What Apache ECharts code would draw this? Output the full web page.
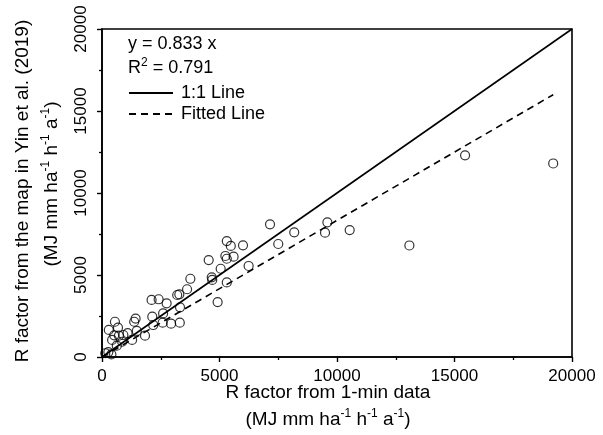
<!DOCTYPE html>
<html>
<head>
<meta charset="utf-8">
<script src="https://cdn.jsdelivr.net/npm/echarts@6/dist/echarts.min.js"></script>
<style>html,body{margin:0;padding:0;background:#fff;}#c{width:603px;height:435px;}</style>
</head>
<body>
<div id="c"></div>
<script>
// R factor from 1-min data (x) vs. map in Yin et al. (2019) (y)
var obsX = [19200, 15450, 13080, 10540, 9590, 9490, 8180, 7500, 7150, 5310, 5480, 6000, 4540, 5250, 5310, 5600, 5050, 6240, 3760, 4670, 4690, 5310, 3620, 3200, 3290, 2110, 2410, 2750, 3320, 4920, 2600, 2140, 2180, 2580, 2940, 3310, 1430, 1370, 1830, 1480, 1280, 1090, 910, 720, 520, 550, 680, 290, 430, 630, 860, 270, 400, 140];
var mapY = [11800, 12300, 6800, 7740, 8210, 7580, 7600, 6890, 8090, 7070, 6770, 6810, 5910, 6160, 5990, 6120, 5380, 5550, 4770, 4860, 4700, 4550, 4130, 3780, 3820, 3480, 3520, 3270, 3030, 3350, 2660, 2460, 1950, 2090, 2030, 2090, 2340, 2150, 1300, 1590, 1040, 1450, 1340, 1300, 1320, 2150, 1790, 1650, 1040, 690, 930, 300, 160, 230];
var oneToOne = [[0, 0], [20000, 20000]];
var fitSlope = 0.833;
var fitXRange = [0, 19200];
var xTicks = [0, 5000, 10000, 15000, 20000];
var yTicks = [0, 5000, 10000, 15000, 20000];
var eqText = 'y = 0.833 x';
var r2Value = '0.791';

var FONT = 'Liberation Sans, Arial, sans-serif';
var scatterData = obsX.map(function (x, i) { return [x, mapY[i]]; });
var fitData = fitXRange.map(function (x) { return [x, fitSlope * x]; });
var plain = function (v) { return String(v); };

var axisCommon = {
  type: 'value', min: xTicks[0], max: xTicks[xTicks.length - 1], interval: 5000,
  axisLine: { show: true, lineStyle: { color: '#000', width: 1.6 } },
  axisTick: { show: true, inside: false, length: 5, lineStyle: { color: '#000', width: 1.4 } },
  minorTick: { show: true, splitNumber: 2, length: 3, lineStyle: { color: '#000', width: 1.3 } },
  splitLine: { show: false },
  axisLabel: { color: '#000', fontSize: 17, fontFamily: FONT, margin: 11, formatter: plain }
};

var supRich = {
  a: { fontSize: 19, fontFamily: FONT, fill: '#000', color: '#000', lineHeight: 24 },
  s: { fontSize: 12, fontFamily: FONT, fill: '#000', color: '#000', verticalAlign: 'top', lineHeight: 24 }
};
var unitText = '{a|(MJ mm ha}{s|-1}{a| h}{s|-1}{a| a}{s|-1}{a|)}';

var chart = echarts.init(document.getElementById('c'), null, { renderer: 'canvas' });
chart.setOption({
  backgroundColor: '#fff',
  animation: false,
  grid: { left: 102, right: 31, top: 29, bottom: 78, show: true, borderColor: '#000', borderWidth: 1.6, backgroundColor: 'transparent' },
  xAxis: Object.assign({}, axisCommon, {}),
  yAxis: Object.assign({}, axisCommon, {
    min: yTicks[0], max: yTicks[yTicks.length - 1],
    axisLabel: { color: '#000', fontSize: 17, fontFamily: FONT, margin: 12, rotate: 90, formatter: plain }
  }),
  legend: {
    orient: 'vertical', left: 123, top: 79,
    itemWidth: 44, itemHeight: 14, itemGap: 3,
    itemStyle: { opacity: 0, borderWidth: 0 },
    textStyle: { color: '#000', fontSize: 18, fontFamily: FONT, padding: [0, 0, 0, 3] },
    data: ['1:1 Line', 'Fitted Line']
  },
  graphic: [
    { type: 'text', left: 128, top: 35, style: { text: eqText, fill: '#000', font: '18px ' + FONT } },
    { type: 'text', left: 128, top: 57, style: {
        text: '{a|R}{s|2}{a| = ' + r2Value + '}',
        rich: { a: { fontSize: 18, fontFamily: FONT, fill: '#000', lineHeight: 22 }, s: { fontSize: 12, fontFamily: FONT, fill: '#000', verticalAlign: 'top', lineHeight: 22 } } } },
    { type: 'text', x: 328, y: 393, style: { text: 'R factor from 1-min data', fill: '#000', font: '19px ' + FONT, align: 'center', verticalAlign: 'middle' } },
    { type: 'text', x: 328, y: 420, style: { text: unitText, rich: supRich, align: 'center', verticalAlign: 'middle' } },
    { type: 'text', x: 23, y: 191, rotation: Math.PI / 2, style: { text: 'R factor from the map in Yin et al. (2019)', fill: '#000', font: '19px ' + FONT, align: 'center', verticalAlign: 'middle' } },
    { type: 'text', x: 52, y: 184, rotation: Math.PI / 2, style: { text: unitText, rich: supRich, align: 'center', verticalAlign: 'middle' } }
  ],
  series: [
    { name: '1:1 Line', type: 'line', data: oneToOne, symbol: 'none', lineStyle: { color: '#000', width: 1.6, type: 'solid' }, itemStyle: { color: '#000' }, z: 3 },
    { name: 'Fitted Line', type: 'line', data: fitData, symbol: 'none', lineStyle: { color: '#000', width: 1.6, type: [7, 5] }, itemStyle: { color: '#000' }, z: 3 },
    { name: 'Observed', type: 'scatter', data: scatterData, symbol: 'circle', symbolSize: 9,
      itemStyle: { color: 'rgba(255,255,255,0)', borderColor: '#000', borderWidth: 1.2 }, z: 4 }
  ]
});
</script>
</body>
</html>
